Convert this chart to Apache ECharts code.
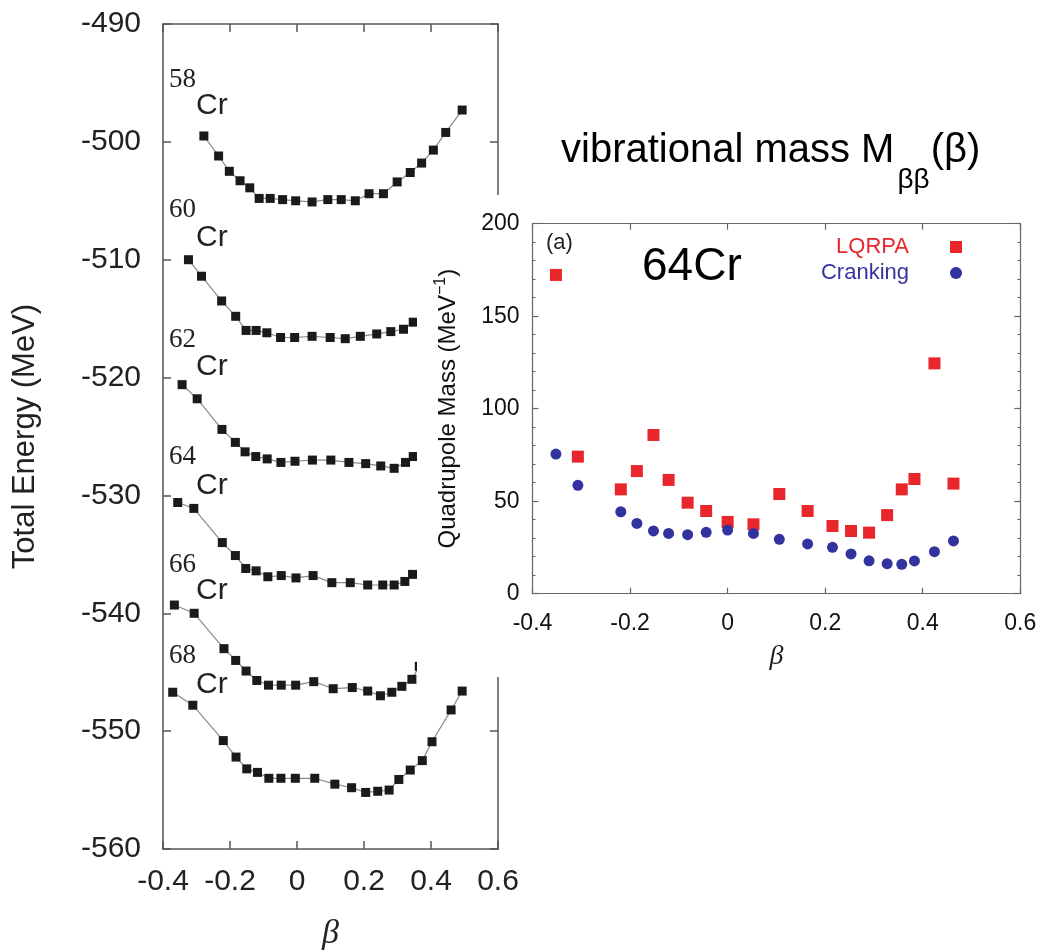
<!DOCTYPE html>
<html>
<head>
<meta charset="utf-8">
<script src="https://cdn.jsdelivr.net/npm/echarts@6/dist/echarts.min.js"></script>
<style>
html,body{margin:0;padding:0;background:#fff;}
#c{width:1044px;height:951px;}
</style>
</head>
<body>
<div id="c"></div>
<script>
// ---- Left panel: total energy curves (beta, MeV) ----
const isotopes = ['58', '60', '62', '64', '66', '68'];
const beta58 = [-0.278,-0.234,-0.202,-0.170,-0.141,-0.113,-0.080,-0.043,-0.004,0.045,0.092,0.132,0.174,0.215,0.258,0.299,0.338,0.372,0.407,0.444,0.493];
const e58    = [-499.5,-501.2,-502.5,-503.3,-503.9,-504.8,-504.8,-504.9,-505.0,-505.1,-504.9,-504.9,-505.0,-504.4,-504.4,-503.4,-502.6,-501.8,-500.7,-499.2,-497.3];
const beta60 = [-0.324,-0.285,-0.225,-0.183,-0.152,-0.122,-0.090,-0.049,-0.007,0.045,0.099,0.144,0.189,0.238,0.280,0.318,0.347];
const e60    = [-510.0,-511.4,-513.5,-514.8,-516.0,-516.0,-516.2,-516.6,-516.6,-516.5,-516.6,-516.7,-516.5,-516.3,-516.1,-515.9,-515.3];
const beta62 = [-0.343,-0.298,-0.224,-0.184,-0.155,-0.123,-0.089,-0.048,-0.006,0.046,0.101,0.155,0.205,0.250,0.290,0.324,0.347];
const e62    = [-520.6,-521.8,-524.4,-525.5,-526.3,-526.7,-526.9,-527.2,-527.1,-527.0,-527.0,-527.2,-527.3,-527.5,-527.7,-527.2,-526.7];
const beta64 = [-0.356,-0.308,-0.223,-0.184,-0.153,-0.122,-0.087,-0.047,-0.003,0.048,0.104,0.159,0.211,0.256,0.290,0.322,0.345];
const e64    = [-530.6,-531.1,-534.0,-535.1,-536.2,-536.4,-536.9,-536.8,-537.0,-536.8,-537.4,-537.4,-537.6,-537.6,-537.6,-537.3,-536.7];
const beta66 = [-0.366,-0.307,-0.218,-0.183,-0.152,-0.120,-0.085,-0.047,-0.004,0.050,0.108,0.165,0.211,0.249,0.283,0.313,0.343,0.365];
const e66    = [-539.3,-540.0,-543.0,-544.0,-544.9,-545.7,-546.1,-546.1,-546.1,-545.8,-546.4,-546.3,-546.6,-547.0,-546.7,-546.2,-545.6,-544.5];
const beta68 = [-0.371,-0.311,-0.220,-0.182,-0.150,-0.118,-0.084,-0.048,-0.005,0.053,0.113,0.163,0.205,0.241,0.275,0.304,0.338,0.374,0.403,0.460,0.493];
const e68    = [-546.7,-547.8,-550.8,-552.2,-553.2,-553.5,-554.0,-554.0,-554.0,-554.0,-554.5,-554.8,-555.2,-555.1,-555.0,-554.1,-553.3,-552.5,-550.9,-548.2,-546.6];

// ---- Right panel: 64Cr quadrupole (vibrational) mass ----
const betaMass = [-0.352,-0.307,-0.219,-0.186,-0.152,-0.121,-0.082,-0.044,0.000,0.053,0.106,0.164,0.215,0.253,0.290,0.327,0.357,0.383,0.424,0.463];
const lqrpa    = [172.3,74.1,56.4,66.3,85.8,61.5,49.2,44.7,38.8,37.5,53.9,44.7,36.6,33.9,33.0,42.5,56.4,62.0,124.5,59.5];
const cranking = [75.5,58.6,44.3,38.0,33.9,32.6,31.9,33.2,34.4,32.6,29.4,26.9,25.1,21.5,17.8,16.2,15.9,17.7,22.7,28.5];

const SANS = "'Liberation Sans', Arial, Helvetica, sans-serif";
const SERIF = "'Liberation Serif', 'Times New Roman', serif";
const RED = '#e8262b', BLUE = '#3333a0';

const zip = (xs, ys) => xs.map((x, i) => [x, ys[i]]);
const curves = [[beta58,e58],[beta60,e60],[beta62,e62],[beta64,e64],[beta66,e66],[beta68,e68]];

function measure(text, font) {
  const cv = document.createElement('canvas').getContext('2d');
  cv.font = font;
  return cv.measureText(text).width;
}

const chart = echarts.init(document.getElementById('c'), null, {renderer: 'canvas'});

const axLine = {show: true, onZero: false, lineStyle: {color: '#555', width: 1.5}};
const tickIn = {show: true, inside: true, length: 8, lineStyle: {color: '#555', width: 1.5}};
const axLineR = {show: true, onZero: false, lineStyle: {color: '#666', width: 1.2}};
const tickInR = {show: true, inside: true, length: 6, lineStyle: {color: '#666', width: 1.2}};
const minorR = {show: true, splitNumber: 5, length: 3, lineStyle: {color: '#666', width: 1}};

// Title (vibrational mass M_ββ(β))
const tFont = '40px ' + SANS;
const tMain = 'vibrational mass M';
const tX = 561, tMid = 151;
const wMain = measure(tMain, tFont);
const wSub = measure('ββ', '28px ' + SANS);

const labelPos = [
  {n: 80, c: 106}, {n: 210, c: 238}, {n: 340, c: 367},
  {n: 457, c: 486}, {n: 565, c: 591}, {n: 656, c: 685}
];

const graphics = [
  {type: 'rect', z: 50, shape: {x: 417, y: 195, width: 627, height: 482}, style: {fill: '#fff'}},
  {type: 'text', z: 120, x: tX, y: tMid, style: {text: tMain, font: tFont, fill: '#000', verticalAlign: 'middle'}},
  {type: 'text', z: 120, x: tX + wMain + 3, y: tMid + 29, style: {text: 'ββ', font: '28px ' + SANS, fill: '#000', verticalAlign: 'middle'}},
  {type: 'text', z: 120, x: tX + wMain + 3 + wSub + 1, y: tMid, style: {text: '(β)', font: tFont, fill: '#000', verticalAlign: 'middle'}},
  {type: 'text', z: 120, x: 642, y: 267, style: {text: '64Cr', font: '46px ' + SANS, fill: '#000', verticalAlign: 'middle'}},
  {type: 'text', z: 120, x: 546, y: 243, style: {text: '(a)', font: '22px ' + SANS, fill: '#222', verticalAlign: 'middle'}}
];
isotopes.forEach((a, i) => {
  graphics.push({type: 'text', z: 20, x: 169, y: labelPos[i].n, style: {text: a, font: '27px ' + SERIF, fill: '#222', verticalAlign: 'middle'}});
  graphics.push({type: 'text', z: 20, x: 196, y: labelPos[i].c, style: {text: 'Cr', font: '30px ' + SANS, fill: '#222', verticalAlign: 'middle'}});
});

const leftSeries = curves.map((c, i) => ({
  name: isotopes[i] + 'Cr', type: 'line', xAxisIndex: 0, yAxisIndex: 0,
  data: zip(c[0], c[1]), symbol: 'rect', symbolSize: 9, z: 2,
  lineStyle: {color: '#8a8a8a', width: 1.2},
  itemStyle: {color: '#1a1a1a'}, emphasis: {disabled: true}, animation: false
}));

const option = {
  animation: false,
  backgroundColor: '#fff',
  grid: [
    {left: 163, top: 24, width: 335, height: 825, outerBoundsMode: 'none', containLabel: false},
    {left: 532.5, top: 223.7, width: 487.8, height: 370, outerBoundsMode: 'none', containLabel: false, z: 100}
  ],
  xAxis: [
    {gridIndex: 0, type: 'value', min: -0.4, max: 0.6, interval: 0.2, position: 'bottom',
     axisLine: axLine, axisTick: tickIn, splitLine: {show: false},
     axisLabel: {fontSize: 30, fontFamily: SANS, color: '#222', margin: 18, formatter: v => +v.toFixed(1) + ''},
     name: 'β', nameLocation: 'middle', nameGap: 68,
     nameTextStyle: {fontSize: 34, fontFamily: SERIF, fontStyle: 'italic', color: '#222'}},
    {gridIndex: 0, type: 'value', min: -0.4, max: 0.6, interval: 0.2, position: 'top',
     axisLine: axLine, axisTick: tickIn, axisLabel: {show: false}, splitLine: {show: false}},
    {gridIndex: 1, type: 'value', min: -0.4, max: 0.6, interval: 0.2, position: 'bottom', z: 100,
     axisLine: axLineR, axisTick: tickInR, splitLine: {show: false},
     axisLabel: {fontSize: 23, fontFamily: SANS, color: '#111', margin: 18, formatter: v => +v.toFixed(1) + ''},
     name: 'β', nameLocation: 'middle', nameGap: 49,
     nameTextStyle: {fontSize: 28, fontFamily: SERIF, fontStyle: 'italic', color: '#222'}},
    {gridIndex: 1, type: 'value', min: -0.4, max: 0.6, interval: 0.2, position: 'top', z: 100,
     axisLine: axLineR, axisTick: tickInR, axisLabel: {show: false}, splitLine: {show: false}}
  ],
  yAxis: [
    {gridIndex: 0, type: 'value', min: -560, max: -490, interval: 10, position: 'left',
     axisLine: axLine, axisTick: tickIn, splitLine: {show: false},
     axisLabel: {fontSize: 30, fontFamily: SANS, color: '#222', margin: 22},
     name: 'Total Energy (MeV)', nameLocation: 'middle', nameGap: 122,
     nameTextStyle: {fontSize: 31, fontFamily: SANS, color: '#222'}},
    {gridIndex: 0, type: 'value', min: -560, max: -490, interval: 10, position: 'right',
     axisLine: axLine, axisTick: tickIn, axisLabel: {show: false}, splitLine: {show: false}},
    {gridIndex: 1, type: 'value', min: 0, max: 200, interval: 50, position: 'left', z: 100,
     axisLine: axLineR, axisTick: tickInR, minorTick: minorR, splitLine: {show: false},
     axisLabel: {fontSize: 23, fontFamily: SANS, color: '#111', margin: 13},
     name: '{a|Quadrupole Mass (MeV}{s|−1}{a|)}', nameLocation: 'middle', nameGap: 68,
     nameTextStyle: {color: '#111', rich: {
       a: {fontSize: 24, fontFamily: SANS, color: '#111', lineHeight: 32},
       s: {fontSize: 16, fontFamily: SANS, color: '#111', lineHeight: 16, verticalAlign: 'top'}
     }}},
    {gridIndex: 1, type: 'value', min: 0, max: 200, interval: 50, position: 'right', z: 100,
     axisLine: axLineR, axisTick: tickInR, minorTick: minorR, axisLabel: {show: false}, splitLine: {show: false}}
  ],
  legend: {
    z: 110, orient: 'vertical', align: 'right', right: 77, top: 231, itemGap: 4,
    itemWidth: 12, itemHeight: 12, selectedMode: false,
    textStyle: {fontSize: 22, fontFamily: SANS, lineHeight: 22, padding: [0, 36, 0, 0]},
    data: [
      {name: 'LQRPA', textStyle: {color: RED}},
      {name: 'Cranking', textStyle: {color: BLUE}}
    ]
  },
  graphic: {elements: graphics},
  series: leftSeries.concat([
    {name: 'LQRPA', type: 'scatter', xAxisIndex: 2, yAxisIndex: 2, z: 100,
     data: zip(betaMass, lqrpa), symbol: 'rect', symbolSize: 12, itemStyle: {color: RED, opacity: 1}},
    {name: 'Cranking', type: 'scatter', xAxisIndex: 2, yAxisIndex: 2, z: 100,
     data: zip(betaMass, cranking), symbol: 'circle', symbolSize: 11, itemStyle: {color: BLUE, opacity: 1}}
  ])
};
chart.setOption(option);
</script>
</body>
</html>
